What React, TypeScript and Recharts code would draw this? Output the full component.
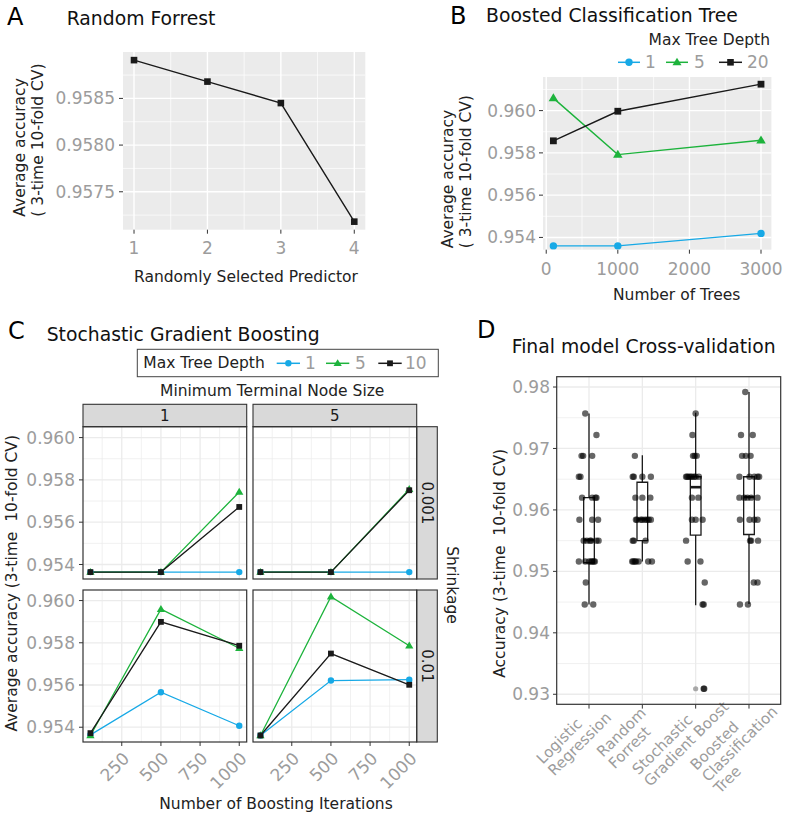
import React from 'react';
import {
  LineChart, Line, XAxis, YAxis, CartesianGrid, ComposedChart, Scatter,
  ReferenceArea, ReferenceLine,
} from 'recharts';

// ---------------- data ----------------
// A: Random Forrest
const rfPredictors = [1, 2, 3, 4];
const rfAccuracy = [0.95891, 0.95868, 0.95845, 0.95718];
const rfXTicks = [1, 2, 3, 4];
const rfXMinor = [1.5, 2.5, 3.5];
const rfYTicks = [0.9575, 0.958, 0.9585];
const rfYMinor = [0.95725, 0.95775, 0.95825, 0.95875];

// B: Boosted Classification Tree
const bctTrees = [100, 1000, 3000];
const bctDepth1 = [0.9536, 0.9536, 0.95419];
const bctDepth5 = [0.96059, 0.95792, 0.9586];
const bctDepth20 = [0.95857, 0.95997, 0.96125];
const bctDepthLabels = ['1', '5', '20'];
const bctXTicks = [0, 1000, 2000, 3000];
const bctXMinor = [500, 1500, 2500];
const bctYTicks = [0.954, 0.956, 0.958, 0.96];
const bctYMinor = [0.955, 0.957, 0.959, 0.961];

// C: Stochastic Gradient Boosting  (rows: shrinkage, cols: min node size; series: depth 1, 5, 10)
const sgbIterations = [50, 500, 1000];
const sgbS001N1D1 = [0.95364, 0.95364, 0.95364];
const sgbS001N1D5 = [0.95364, 0.95364, 0.95743];
const sgbS001N1D10 = [0.95364, 0.95364, 0.95672];
const sgbS001N5D1 = [0.95364, 0.95364, 0.95364];
const sgbS001N5D5 = [0.95364, 0.95364, 0.95756];
const sgbS001N5D10 = [0.95364, 0.95364, 0.95751];
const sgbS01N1D1 = [0.95364, 0.95566, 0.95407];
const sgbS01N1D5 = [0.95361, 0.95959, 0.95774];
const sgbS01N1D10 = [0.95372, 0.95899, 0.95786];
const sgbS01N5D1 = [0.95361, 0.95621, 0.95625];
const sgbS01N5D5 = [0.95361, 0.96018, 0.95786];
const sgbS01N5D10 = [0.95361, 0.95749, 0.95601];
const sgbDepthLabels = ['1', '5', '10'];
const sgbNodeSizes = ['1', '5'];
const sgbShrinkage = ['0.001', '0.01'];
const sgbXTicks = [250, 500, 750, 1000];
const sgbXMinor = [125, 375, 625, 875];
const sgbYTicks = [0.954, 0.956, 0.958, 0.96];
const sgbYMinor = [0.955, 0.957, 0.959];

// D: Final model cross-validation
const cvModels = ['Logistic\nRegression', 'Random\nForrest', 'Stochastic\nGradient Boost', 'Boosted\nClassification\nTree'];
const lrAcc = [0.9757, 0.9722, 0.9688, 0.9688, 0.9688, 0.9654, 0.9654, 0.962, 0.962, 0.962, 0.962, 0.9584, 0.9584, 0.9584,
  0.955, 0.955, 0.955, 0.955, 0.955, 0.955, 0.9516, 0.9516, 0.9516, 0.9516, 0.9516, 0.9516, 0.9516, 0.9482, 0.9446, 0.9446];
const lrJitter = [-0.07, 0.14, -0.14, -0.11, 0.06, -0.19, -0.16, -0.13, 0.06, 0.12, 0.14, -0.18, 0.06, 0.17,
  -0.1, -0.04, 0.02, 0.04, 0.14, 0.18, -0.19, -0.07, 0.0, 0.04, 0.06, 0.09, 0.11, -0.06, -0.08, 0.08];
const rfcvAcc = [0.9688, 0.9654, 0.9654, 0.9654, 0.9654, 0.962, 0.962, 0.962, 0.9584, 0.9584, 0.9584, 0.9584, 0.9584, 0.9584,
  0.9584, 0.9584, 0.955, 0.955, 0.955, 0.9516, 0.9516, 0.9516, 0.9516, 0.9516, 0.9516, 0.9516];
const rfcvJitter = [-0.14, -0.18, -0.16, 0.0, 0.16, -0.13, 0.0, 0.15, -0.12, -0.1, -0.03, 0.0, 0.05, 0.09,
  0.12, 0.16, -0.18, -0.16, 0.06, -0.19, -0.17, -0.14, -0.12, -0.07, 0.11, 0.18];
const sgbcvAcc = [0.9757, 0.9722, 0.9688, 0.9688, 0.9688, 0.9654, 0.9654, 0.9654, 0.9654, 0.9654, 0.9654, 0.9654, 0.9654,
  0.962, 0.962, 0.9584, 0.9584, 0.9584, 0.955, 0.9516, 0.9516, 0.9482, 0.9446, 0.9446, 0.9309, 0.9309];
const sgbcvJitter = [0.0, -0.06, -0.05, -0.02, 0.02, -0.18, -0.16, -0.13, -0.1, -0.07, -0.03, 0.0, 0.06,
  -0.07, 0.05, -0.07, 0.0, 0.13, -0.18, -0.15, 0.09, 0.17, 0.13, 0.15, 0.15, 0.16];
const bctcvAcc = [0.9792, 0.9722, 0.9722, 0.9688, 0.9688, 0.9688, 0.9654, 0.9654, 0.9654, 0.9654, 0.9654,
  0.962, 0.962, 0.962, 0.962, 0.962, 0.9584, 0.9584, 0.9584, 0.9584, 0.955, 0.955, 0.955, 0.9482, 0.9482, 0.9446, 0.9446];
const bctcvJitter = [-0.07, -0.15, 0.07, -0.13, -0.06, 0.03, -0.18, 0.01, 0.1, 0.16, 0.19,
  -0.18, -0.09, -0.03, 0.04, 0.16, -0.17, 0.01, 0.1, 0.16, 0.02, 0.04, 0.17, 0.09, 0.16, -0.17, -0.02];
const boxMin = [0.9446, 0.9516, 0.9445, 0.9447];
const boxQ1 = [0.9514, 0.955, 0.9559, 0.956];
const boxMedian = [0.9551, 0.9585, 0.9637, 0.9621];
const boxQ3 = [0.962, 0.9645, 0.9654, 0.9654];
const boxMax = [0.9757, 0.9689, 0.9758, 0.9792];
const outlierModel = [3];
const outlierAcc = [0.9309];
const cvYTicks = [0.93, 0.94, 0.95, 0.96, 0.97, 0.98];
const cvYMinor = [0.935, 0.945, 0.955, 0.965, 0.975];

// ---------------- style ----------------
const FONT = '"DejaVu Sans", "Liberation Sans", sans-serif';
const TICK_GRAY = '#9c9c9c';
const TEXT_DARK = '#222222';
const BLUE = '#17A9E6';
const GREEN = '#1DB33C';
const BLACK = '#1a1a1a';
const BORDER = '#333333';
const STRIP_FILL = '#D9D9D9';
const TICK_STYLE = { fill: TICK_GRAY, fontSize: 17, fontFamily: FONT };
const TICK_LINE = { stroke: '#333333', strokeWidth: 1 };

type Rect = { x0: number; y0: number; x1: number; y1: number };
const rectA: Rect = { x0: 122.7, y0: 52.3, x1: 365, y1: 230 };
const rectB: Rect = { x0: 543.3, y0: 77.3, x1: 771.7, y1: 250 };
const rectC: Rect[][] = [
  [{ x0: 83, y0: 426.7, x1: 246.7, y1: 579 }, { x0: 253, y0: 426.7, x1: 416.7, y1: 579 }],
  [{ x0: 83, y0: 590, x1: 246.7, y1: 742 }, { x0: 253, y0: 590, x1: 416.7, y1: 742 }],
];
const rectD: Rect = { x0: 556.7, y0: 376.7, x1: 780.7, y1: 704.3 };

const pts = (xs: number[], ys: number[]) => xs.map((x, i) => ({ x, y: ys[i] }));

function frame(r: Rect, padL: number, padB: number, padT: number, padR: number) {
  return {
    style: { position: 'absolute' as const, left: r.x0 - padL, top: r.y0 - padT },
    width: r.x1 - r.x0 + padL + padR,
    height: r.y1 - r.y0 + padT + padB,
  };
}

function Marker({ shape, cx, cy, color, s }: any) {
  if (shape === 'circle') return <circle cx={cx} cy={cy} r={s} fill={color} />;
  if (shape === 'triangle') {
    const w = s * 1.25;
    const h = s * 2.1;
    return <polygon points={`${cx},${cy - h * 0.6} ${cx - w},${cy + h * 0.4} ${cx + w},${cy + h * 0.4}`} fill={color} />;
  }
  return <rect x={cx - s} y={cy - s} width={2 * s} height={2 * s} fill={color} />;
}

const dotRenderer = (shape: string, color: string, s: number) => (p: any) => (
  <Marker key={`m-${shape}-${p.index}`} shape={shape} cx={p.cx} cy={p.cy} color={color} s={s} />
);

let canvasEl: any = null;
function textWidth(s: string, size: number): number {
  if (typeof document === 'undefined') return s.length * size * 0.6;
  if (!canvasEl) canvasEl = document.createElement('canvas');
  const ctx = canvasEl.getContext('2d');
  if (!ctx) return s.length * size * 0.6;
  ctx.font = `${size}px "DejaVu Sans"`;
  return ctx.measureText(s).width;
}

const RotTick = (p: any) => (
  <g transform={`translate(${p.x},${p.y}) rotate(-45)`}>
    <text textAnchor="end" dy="0.72em" fill={TICK_GRAY} fontSize={17} fontFamily={FONT}>{p.payload.value}</text>
  </g>
);

const ModelTick = (p: any) => {
  const lines = cvModels[p.payload.value - 1].split('\n');
  const w = Math.max(...lines.map((l) => textWidth(l, 15)));
  const x0 = -28 - w / 2;
  return (
    <g transform={`translate(${p.x},${p.y}) rotate(-45)`}>
      {lines.map((l, i) => (
        <text key={i} x={x0} y={3.5 + i * 16.5} textAnchor="start" fill={TICK_GRAY} fontSize={15} fontFamily={FONT}>{l}</text>
      ))}
    </g>
  );
};

function Txt({ x, y, size, children, anchor = 'start', fill = TEXT_DARK, rotate = 0 }: any) {
  return (
    <text
      transform={`translate(${x},${y}) rotate(${rotate})`}
      textAnchor={anchor}
      dominantBaseline="central"
      fontSize={size}
      fill={fill}
      fontFamily={FONT}
      style={{ whiteSpace: 'pre' }}
    >{children}</text>
  );
}

function LegendKey({ x1, x2, y, color, shape, s }: any) {
  return (
    <g>
      <line x1={x1} x2={x2} y1={y} y2={y} stroke={color} strokeWidth={1.5} />
      <Marker shape={shape} cx={(x1 + x2) / 2} cy={y} color={color} s={s} />
    </g>
  );
}

function PanelA() {
  const f = frame(rectA, 75, 32, 4, 10);
  return (
    <div style={f.style}>
      <LineChart width={f.width} height={f.height} margin={{ top: 4, right: 10, left: 0, bottom: 0 }}>
        <CartesianGrid fill="#EBEBEB" fillOpacity={1} stroke="#FFFFFF" strokeWidth={0.7} horizontalValues={rfYMinor} verticalValues={rfXMinor} />
        <CartesianGrid stroke="#FFFFFF" strokeWidth={1.4} horizontalValues={rfYTicks} verticalValues={rfXTicks} />
        <XAxis dataKey="x" type="number" domain={[0.85, 4.15]} ticks={rfXTicks} allowDataOverflow interval={0}
          axisLine={false} tickLine={TICK_LINE} tickSize={4} tickMargin={8} height={32} tick={TICK_STYLE} />
        <YAxis type="number" domain={[0.957094, 0.958997]} ticks={rfYTicks} allowDataOverflow interval={0}
          axisLine={false} tickLine={TICK_LINE} tickSize={4} tickMargin={4} width={75} tick={TICK_STYLE}
          tickFormatter={(v: number) => v.toFixed(4)} />
        <Line data={pts(rfPredictors, rfAccuracy)} dataKey="y" type="linear" stroke={BLACK} strokeWidth={1.4}
          dot={dotRenderer('square', BLACK, 3.3)} activeDot={false} isAnimationActive={false} />
      </LineChart>
    </div>
  );
}

function PanelB() {
  const f = frame(rectB, 72, 32, 4, 12);
  const series = [
    { ys: bctDepth1, color: BLUE, shape: 'circle', s: 3.7 },
    { ys: bctDepth5, color: GREEN, shape: 'triangle', s: 3.8 },
    { ys: bctDepth20, color: BLACK, shape: 'square', s: 3.4 },
  ];
  return (
    <div style={f.style}>
      <LineChart width={f.width} height={f.height} margin={{ top: 4, right: 12, left: 0, bottom: 0 }}>
        <CartesianGrid fill="#EBEBEB" fillOpacity={1} stroke="#FFFFFF" strokeWidth={0.7} horizontalValues={bctYMinor} verticalValues={bctXMinor} />
        <CartesianGrid stroke="#FFFFFF" strokeWidth={1.4} horizontalValues={bctYTicks} verticalValues={bctXTicks} />
        <XAxis dataKey="x" type="number" domain={[-45, 3145]} ticks={bctXTicks} allowDataOverflow interval={0}
          axisLine={false} tickLine={TICK_LINE} tickSize={4} tickMargin={9} height={32} tick={TICK_STYLE} />
        <YAxis type="number" domain={[0.95342, 0.96159]} ticks={bctYTicks} allowDataOverflow interval={0}
          axisLine={false} tickLine={TICK_LINE} tickSize={4} tickMargin={3} width={72} tick={TICK_STYLE}
          tickFormatter={(v: number) => v.toFixed(3)} />
        {series.map((sr, i) => (
          <Line key={i} data={pts(bctTrees, sr.ys)} dataKey="y" type="linear" stroke={sr.color} strokeWidth={1.4}
            dot={dotRenderer(sr.shape, sr.color, sr.s)} activeDot={false} isAnimationActive={false} />
        ))}
      </LineChart>
    </div>
  );
}

const sgbPanels = [
  [[sgbS001N1D1, sgbS001N1D5, sgbS001N1D10], [sgbS001N5D1, sgbS001N5D5, sgbS001N5D10]],
  [[sgbS01N1D1, sgbS01N1D5, sgbS01N1D10], [sgbS01N5D1, sgbS01N5D5, sgbS01N5D10]],
];
const sgbStyles = [
  { color: BLUE, shape: 'circle', s: 3.2 },
  { color: GREEN, shape: 'triangle', s: 3.3 },
  { color: BLACK, shape: 'square', s: 2.9 },
];

function PanelC() {
  return (
    <>
      {sgbPanels.map((row, ri) => row.map((series, ci) => {
        const r = rectC[ri][ci];
        const showY = ci === 0;
        const showX = ri === 1;
        const padL = showY ? 62 : 2;
        const padB = showX ? 50 : 2;
        const f = frame(r, padL, padB, 2, 3);
        return (
          <div key={`${ri}-${ci}`} style={f.style}>
            <LineChart width={f.width} height={f.height}
              margin={{ top: 2, right: 3, left: showY ? 0 : padL, bottom: showX ? 0 : padB }}>
              <CartesianGrid fill="#FFFFFF" fillOpacity={1} stroke="#EBEBEB" strokeWidth={0.7} horizontalValues={sgbYMinor} verticalValues={sgbXMinor} />
              <CartesianGrid stroke="#EBEBEB" strokeWidth={1.3} horizontalValues={sgbYTicks} verticalValues={sgbXTicks} />
              <XAxis dataKey="x" type="number" domain={[2.5, 1047.5]} ticks={sgbXTicks} allowDataOverflow interval={0}
                hide={!showX} axisLine={false} tickLine={TICK_LINE} tickSize={4} tickMargin={5} height={padB} tick={<RotTick />} />
              <YAxis type="number" domain={[0.9533, 0.9605]} ticks={sgbYTicks} allowDataOverflow interval={0}
                hide={!showY} axisLine={false} tickLine={TICK_LINE} tickSize={4} tickMargin={4} width={padL} tick={TICK_STYLE}
                tickFormatter={(v: number) => v.toFixed(3)} />
              {series.map((ys, i) => (
                <Line key={i} data={pts(sgbIterations, ys)} dataKey="y" type="linear" stroke={sgbStyles[i].color} strokeWidth={1.3}
                  dot={dotRenderer(sgbStyles[i].shape, sgbStyles[i].color, sgbStyles[i].s)} activeDot={false} isAnimationActive={false} />
              ))}
            </LineChart>
          </div>
        );
      }))}
    </>
  );
}

const cvPoints = [
  ...lrAcc.map((v, i) => ({ x: 1 + lrJitter[i], y: v })),
  ...rfcvAcc.map((v, i) => ({ x: 2 + rfcvJitter[i], y: v })),
  ...sgbcvAcc.map((v, i) => ({ x: 3 + sgbcvJitter[i], y: v })),
  ...bctcvAcc.map((v, i) => ({ x: 4 + bctcvJitter[i], y: v })),
];
const cvOutliers = outlierModel.map((m, i) => ({ x: m, y: outlierAcc[i] }));

function PanelD() {
  const f = frame(rectD, 62, 111, 4, 11);
  const cats = [1, 2, 3, 4];
  return (
    <div style={f.style}>
      <ComposedChart width={f.width} height={f.height} margin={{ top: 4, right: 11, left: 0, bottom: 0 }}>
        <CartesianGrid fill="#FFFFFF" fillOpacity={1} stroke="#EBEBEB" strokeWidth={0.7} horizontalValues={cvYMinor} vertical={false} />
        <CartesianGrid stroke="#EBEBEB" strokeWidth={1.3} horizontalValues={cvYTicks} verticalValues={cats} />
        <XAxis dataKey="x" type="number" domain={[0.4, 4.6]} ticks={cats} allowDataOverflow interval={0}
          axisLine={false} tickLine={TICK_LINE} tickSize={4} tickMargin={5} height={111} tick={<ModelTick />} />
        <YAxis dataKey="y" type="number" domain={[0.92832, 0.98163]} ticks={cvYTicks} allowDataOverflow interval={0}
          axisLine={false} tickLine={TICK_LINE} tickSize={4} tickMargin={3} width={62} tick={TICK_STYLE}
          tickFormatter={(v: number) => v.toFixed(2)} />
        {cats.map((c, i) => (
          <ReferenceLine key={`wu${i}`} segment={[{ x: c, y: boxQ3[i] }, { x: c, y: boxMax[i] }]} stroke={BLACK} strokeWidth={1.3} />
        ))}
        {cats.map((c, i) => (
          <ReferenceLine key={`wl${i}`} segment={[{ x: c, y: boxMin[i] }, { x: c, y: boxQ1[i] }]} stroke={BLACK} strokeWidth={1.3} />
        ))}
        {cats.map((c, i) => (
          <ReferenceArea key={`bx${i}`} x1={c - 0.1} x2={c + 0.1} y1={boxQ1[i]} y2={boxQ3[i]} fill="#FFFFFF" fillOpacity={1}
            stroke={BLACK} strokeWidth={1.3} />
        ))}
        {cats.map((c, i) => (
          <ReferenceLine key={`md${i}`} segment={[{ x: c - 0.1, y: boxMedian[i] }, { x: c + 0.1, y: boxMedian[i] }]} stroke={BLACK} strokeWidth={2.6} />
        ))}
        <Scatter data={cvOutliers} isAnimationActive={false}
          shape={(p: any) => <circle cx={p.cx} cy={p.cy} r={2.6} fill="#888888" fillOpacity={0.7} />} />
        <Scatter data={cvPoints} isAnimationActive={false}
          shape={(p: any) => <circle cx={p.cx} cy={p.cy} r={3.2} fill="#000000" fillOpacity={0.6} />} />
      </ComposedChart>
    </div>
  );
}

function Overlay() {
  const stripTop = 404.3;
  const stripRightW = 20.6;
  return (
    <svg width={792} height={816} style={{ position: 'absolute', left: 0, top: 0, pointerEvents: 'none' }}>
      {/* Panel A */}
      <Txt x={7} y={17} size={24} fill="#000">A</Txt>
      <Txt x={66.7} y={18.3} size={18.8} fill="#111">Random Forrest</Txt>
      <Txt x={246} y={277.3} size={15.5} anchor="middle">Randomly Selected Predictor</Txt>
      <Txt x={19.5} y={216.7} size={15.5} rotate={-90}>Average accuracy</Txt>
      <Txt x={38} y={216.7} size={15.5} rotate={-90}>( 3-time 10-fold CV)</Txt>

      {/* Panel B */}
      <Txt x={450} y={15.5} size={24} fill="#000">B</Txt>
      <Txt x={486} y={15} size={18.8} fill="#111">Boosted Classification Tree</Txt>
      <Txt x={770} y={40} size={15.5} anchor="end">Max Tree Depth</Txt>
      <LegendKey x1={618} x2={640} y={62.3} color={BLUE} shape="circle" s={3.7} />
      <Txt x={645} y={62.3} size={17} fill={TICK_GRAY}>{bctDepthLabels[0]}</Txt>
      <LegendKey x1={666} x2={688} y={62.3} color={GREEN} shape="triangle" s={3.6} />
      <Txt x={694} y={62.3} size={17} fill={TICK_GRAY}>{bctDepthLabels[1]}</Txt>
      <LegendKey x1={719} x2={742} y={62.3} color={BLACK} shape="square" s={3.3} />
      <Txt x={747} y={62.3} size={17} fill={TICK_GRAY}>{bctDepthLabels[2]}</Txt>
      <Txt x={676.7} y={295.3} size={15.5} anchor="middle">Number of Trees</Txt>
      <Txt x={447.5} y={248.3} size={15.5} rotate={-90}>Average accuracy</Txt>
      <Txt x={466} y={248.3} size={15.5} rotate={-90}>( 3-time 10-fold CV)</Txt>

      {/* Panel C */}
      <Txt x={8} y={331} size={24} fill="#000">C</Txt>
      <Txt x={46.7} y={334} size={18.8} fill="#111">Stochastic Gradient Boosting</Txt>
      <rect x={137.3} y={349.3} width={301} height={27.4} fill="#FFFFFF" stroke="#444444" strokeWidth={1} />
      <Txt x={143.3} y={363.3} size={15.5}>Max Tree Depth</Txt>
      <LegendKey x1={276.7} x2={300} y={363.3} color={BLUE} shape="circle" s={3.2} />
      <Txt x={305} y={363.3} size={17} fill={TICK_GRAY}>{sgbDepthLabels[0]}</Txt>
      <LegendKey x1={326} x2={349.3} y={363.3} color={GREEN} shape="triangle" s={3.3} />
      <Txt x={355} y={363.3} size={17} fill={TICK_GRAY}>{sgbDepthLabels[1]}</Txt>
      <LegendKey x1={378.3} x2={401.7} y={363.3} color={BLACK} shape="square" s={2.9} />
      <Txt x={405} y={363.3} size={17} fill={TICK_GRAY}>{sgbDepthLabels[2]}</Txt>
      <Txt x={272.2} y={390.7} size={15.5} anchor="middle">Minimum Terminal Node Size</Txt>
      {rectC[0].map((r, i) => (
        <g key={`st${i}`}>
          <rect x={r.x0} y={stripTop} width={r.x1 - r.x0} height={r.y0 - stripTop} fill={STRIP_FILL} stroke={BORDER} strokeWidth={1.1} />
          <Txt x={(r.x0 + r.x1) / 2} y={(stripTop + r.y0) / 2} size={15} anchor="middle" fill="#1a1a1a">{sgbNodeSizes[i]}</Txt>
        </g>
      ))}
      {rectC.map((row, i) => {
        const r = row[1];
        return (
          <g key={`sr${i}`}>
            <rect x={r.x1} y={r.y0} width={stripRightW} height={r.y1 - r.y0} fill={STRIP_FILL} stroke={BORDER} strokeWidth={1.1} />
            <Txt x={r.x1 + stripRightW / 2} y={(r.y0 + r.y1) / 2} size={15} anchor="middle" fill="#1a1a1a" rotate={90}>{sgbShrinkage[i]}</Txt>
          </g>
        );
      })}
      {rectC.flat().map((r, i) => (
        <rect key={`pb${i}`} x={r.x0} y={r.y0} width={r.x1 - r.x0} height={r.y1 - r.y0} fill="none" stroke={BORDER} strokeWidth={1.2} />
      ))}
      <Txt x={452.3} y={585} size={15.5} anchor="middle" rotate={90}>Shrinkage</Txt>
      <Txt x={11.7} y={583.3} size={15.5} anchor="middle" rotate={-90}>{'Average accuracy (3-time  10-fold CV)'}</Txt>
      <Txt x={276} y={804} size={15.5} anchor="middle">Number of Boosting Iterations</Txt>

      {/* Panel D */}
      <Txt x={477} y={330} size={24} fill="#000">D</Txt>
      <Txt x={511.7} y={346.7} size={18.8} fill="#111">Final model Cross-validation</Txt>
      <rect x={rectD.x0} y={rectD.y0} width={rectD.x1 - rectD.x0} height={rectD.y1 - rectD.y0} fill="none" stroke={BORDER} strokeWidth={1.2} />
      <Txt x={500} y={563.3} size={15.5} anchor="middle" rotate={-90}>{'Accuracy (3-time  10-fold CV)'}</Txt>
    </svg>
  );
}

export default function App() {
  return (
    <div style={{ position: 'absolute', left: 0, top: 0, width: 792, height: 816, background: '#FFFFFF', fontFamily: FONT, overflow: 'hidden' }}>
      <PanelA />
      <PanelB />
      <PanelC />
      <PanelD />
      <Overlay />
    </div>
  );
}
